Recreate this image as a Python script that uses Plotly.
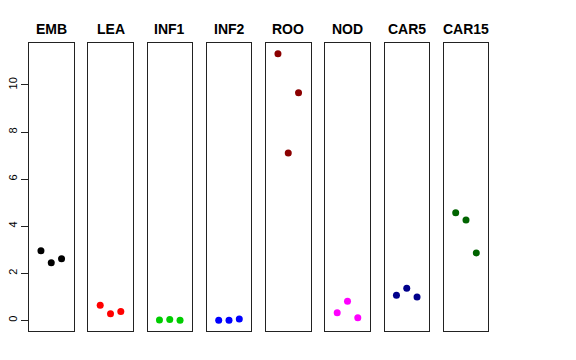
import plotly.graph_objects as go

tissues = ["EMB", "LEA", "INF1", "INF2", "ROO", "NOD", "CAR5", "CAR15"]
colors = ["#000000", "#FF0000", "#00CD00", "#0000FF", "#8B0000", "#FF00FF", "#00008B", "#006400"]
rep1 = [2.96, 0.64, 0.01, 0.00, 11.33, 0.32, 1.06, 4.57]
rep2 = [2.45, 0.28, 0.03, 0.00, 7.11, 0.81, 1.36, 4.26]
rep3 = [2.61, 0.37, 0.00, 0.06, 9.67, 0.11, 0.99, 2.86]
reps = [1, 2, 3]
yticks = [0, 2, 4, 6, 8, 10]

W, H = 576, 360
left0, pw, step = 29.0, 44.5, 59.25
top, bottom = 43.3, 331.0

fig = go.Figure()
for i, name in enumerate(tissues):
    xa = "x" if i == 0 else f"x{i+1}"
    ya = "y" if i == 0 else f"y{i+1}"
    fig.add_trace(go.Scatter(
        x=reps, y=[rep1[i], rep2[i], rep3[i]], mode="markers",
        marker=dict(color=colors[i], size=7, line=dict(width=0)),
        xaxis=xa, yaxis=ya, showlegend=False, hoverinfo="skip"))
    x0 = (left0 + step * i) / W
    x1 = (left0 + step * i + pw) / W
    xkey = "xaxis" if i == 0 else f"xaxis{i+1}"
    ykey = "yaxis" if i == 0 else f"yaxis{i+1}"
    fig.layout[xkey] = dict(domain=[x0, x1], range=[-0.16, 4.16], anchor=ya,
                            showline=True, mirror=True, linecolor="#222", linewidth=1,
                            showgrid=False, zeroline=False, showticklabels=False, ticks="")
    yd = dict(domain=[(H - bottom) / H, (H - top) / H], range=[-0.455, 11.77], anchor=xa,
              showline=True, mirror=True, linecolor="#222", linewidth=1,
              showgrid=False, zeroline=False)
    if i == 0:
        yd.update(tickvals=yticks, ticktext=[str(t) for t in yticks], ticks="outside",
                  ticklen=7, tickcolor="#222", tickangle=-90,
                  tickfont=dict(size=11, color="#000", family="Liberation Sans, Arial"))
    else:
        yd.update(showticklabels=False, ticks="")
    fig.layout[ykey] = yd
    fig.add_annotation(text=f"<b>{name}</b>", x=(x0 + x1) / 2, y=(H - 29) / H,
                       xref="paper", yref="paper", showarrow=False,
                       font=dict(size=14, color="#000", family="Liberation Sans, Arial"),
                       xanchor="center", yanchor="middle")

fig.update_layout(width=W, height=H, margin=dict(l=0, r=0, t=0, b=0),
                  paper_bgcolor="white", plot_bgcolor="white")
fig.write_html("out.html", config={"displayModeBar": False},
               post_script="document.body.style.margin='0';")
